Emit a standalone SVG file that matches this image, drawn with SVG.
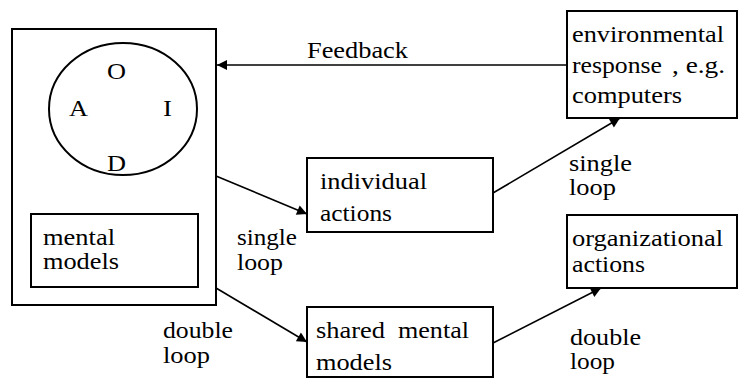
<svg xmlns="http://www.w3.org/2000/svg" width="741" height="379" viewBox="0 0 741 379">
  <style>
    .box { fill: #fff; stroke: #000; stroke-width: 2; }
    .conn { fill: none; stroke: #000; stroke-width: 1.6; }
    text { font-family: 'Liberation Serif', Times, 'Noto Serif', 'DejaVu Serif', serif; font-size: 24px; fill: #000; }
  </style>
  <defs>
    <marker id="arrow" viewBox="0 0 10 10" refX="10" refY="5" markerWidth="11" markerHeight="10" markerUnits="userSpaceOnUse" orient="auto">
      <path d="M0,0 L10,5 L0,10 z" fill="#000"/>
    </marker>
  </defs>
  <rect width="741" height="379" fill="#fff"/>

  <g id="ooda">
    <rect class="box" x="12" y="29" width="204" height="276"/>
    <ellipse cx="123" cy="109" rx="74" ry="66" fill="none" stroke="#000" stroke-width="2"/>
    <text x="107" y="79" textLength="19" lengthAdjust="spacingAndGlyphs">O</text>
    <text x="69" y="116" textLength="19" lengthAdjust="spacingAndGlyphs">A</text>
    <text x="163" y="116" textLength="9" lengthAdjust="spacingAndGlyphs">I</text>
    <text x="107" y="171" textLength="19" lengthAdjust="spacingAndGlyphs">D</text>
  </g>

  <g id="mental-models">
    <rect class="box" x="31" y="214" width="167" height="73"/>
    <text x="43" y="245" textLength="72" lengthAdjust="spacingAndGlyphs">mental</text>
    <text x="43" y="269" textLength="76" lengthAdjust="spacingAndGlyphs">models</text>
  </g>

  <g id="environmental-response">
    <rect class="box" x="567" y="11" width="170" height="107"/>
    <text x="572" y="42" textLength="152" lengthAdjust="spacingAndGlyphs">environmental</text>
    <text x="572" y="73" textLength="90" lengthAdjust="spacingAndGlyphs">response</text>
    <text x="672" y="73" textLength="53" lengthAdjust="spacingAndGlyphs">, e.g.</text>
    <text x="572" y="103" textLength="110" lengthAdjust="spacingAndGlyphs">computers</text>
  </g>

  <g id="individual-actions">
    <rect class="box" x="307" y="158" width="186" height="74"/>
    <text x="320" y="189" textLength="107" lengthAdjust="spacingAndGlyphs">individual</text>
    <text x="320" y="221" textLength="72" lengthAdjust="spacingAndGlyphs">actions</text>
  </g>

  <g id="organizational-actions">
    <rect class="box" x="567" y="215" width="170" height="73"/>
    <text x="572" y="246" textLength="151" lengthAdjust="spacingAndGlyphs">organizational</text>
    <text x="572" y="272" textLength="73" lengthAdjust="spacingAndGlyphs">actions</text>
  </g>

  <g id="shared-mental-models">
    <rect class="box" x="307" y="307" width="186" height="70"/>
    <text x="316" y="338" textLength="69" lengthAdjust="spacingAndGlyphs">shared</text>
    <text x="398" y="338" textLength="71" lengthAdjust="spacingAndGlyphs">mental</text>
    <text x="316" y="370" textLength="76" lengthAdjust="spacingAndGlyphs">models</text>
  </g>

  <g id="connectors">
    <line class="conn" x1="567" y1="65" x2="217" y2="65" marker-end="url(#arrow)"/>
    <line class="conn" x1="216" y1="176" x2="307" y2="214" marker-end="url(#arrow)"/>
    <line class="conn" x1="216" y1="288" x2="307" y2="342" marker-end="url(#arrow)"/>
    <line class="conn" x1="493" y1="193" x2="620" y2="118" marker-end="url(#arrow)"/>
    <line class="conn" x1="493" y1="343" x2="601" y2="288" marker-end="url(#arrow)"/>
    <text x="307" y="58" textLength="101" lengthAdjust="spacingAndGlyphs">Feedback</text>
    <text x="237" y="245" textLength="60" lengthAdjust="spacingAndGlyphs">single</text>
    <text x="237" y="270" textLength="46" lengthAdjust="spacingAndGlyphs">loop</text>
    <text x="163" y="338" textLength="70" lengthAdjust="spacingAndGlyphs">double</text>
    <text x="163" y="363" textLength="47" lengthAdjust="spacingAndGlyphs">loop</text>
    <text x="569" y="171" textLength="63" lengthAdjust="spacingAndGlyphs">single</text>
    <text x="569" y="195" textLength="47" lengthAdjust="spacingAndGlyphs">loop</text>
    <text x="570" y="345" textLength="71" lengthAdjust="spacingAndGlyphs">double</text>
    <text x="570" y="369" textLength="45" lengthAdjust="spacingAndGlyphs">loop</text>
  </g>
</svg>
